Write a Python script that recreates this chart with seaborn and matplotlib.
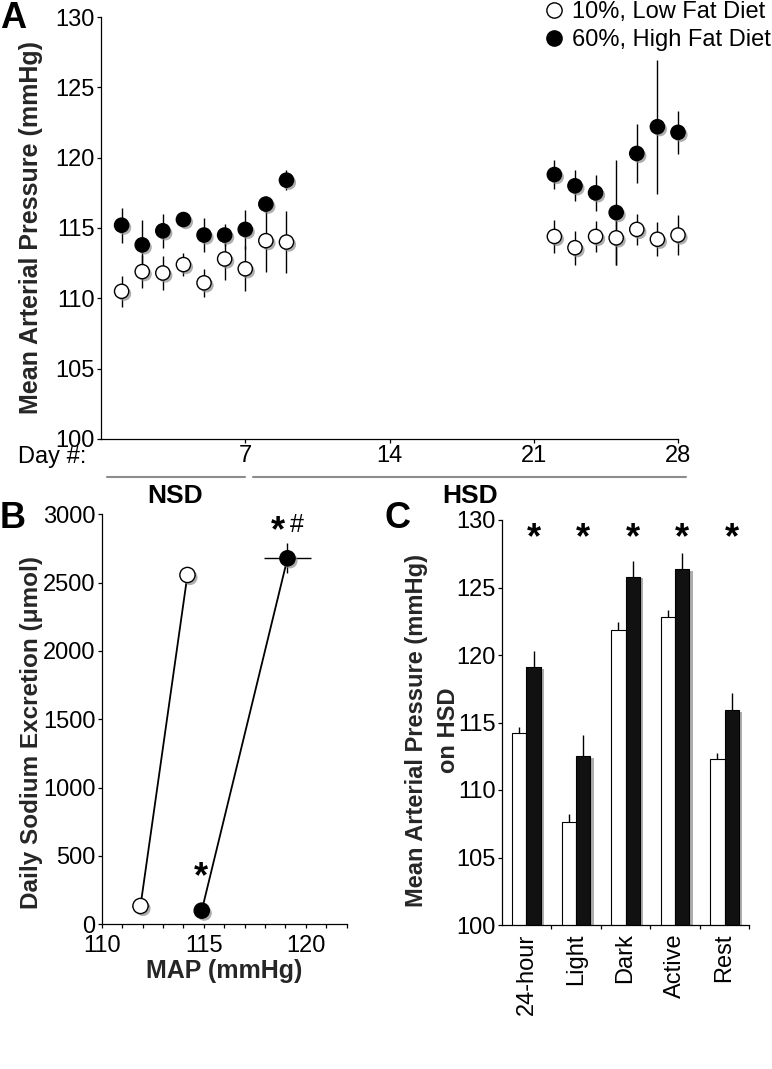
import numpy as np
import pandas as pd
import matplotlib
matplotlib.use("Agg")
import matplotlib.pyplot as plt
import matplotlib.patheffects as pe
from matplotlib.lines import Line2D
from matplotlib.collections import PathCollection
from matplotlib.transforms import blended_transform_factory
import seaborn as sns

# ---------------- data ----------------
diets = ["10%, Low Fat Diet", "60%, High Fat Diet"]

# Panel A: daily MAP
days = [1, 2, 3, 4, 5, 6, 7, 8, 9, 22, 23, 24, 25, 26, 27, 28]
lfd_map = [110.5, 111.9, 111.8, 112.4, 111.1, 112.8, 112.1, 114.1, 114.0,
           114.4, 113.6, 114.4, 114.3, 114.9, 114.2, 114.5]
lfd_sem = [1.1, 1.2, 1.2, 0.8, 1.0, 1.5, 1.6, 2.2, 2.2,
           1.2, 1.2, 1.1, 1.9, 1.1, 1.2, 1.45]
hfd_map = [115.2, 113.8, 114.8, 115.6, 114.5, 114.5, 114.9, 116.7, 118.4,
           118.8, 118.0, 117.5, 116.1, 120.3, 122.2, 121.8]
hfd_sem = [1.25, 1.8, 1.2, 0.3, 1.2, 0.8, 1.4, 0.6, 0.7,
           1.05, 1.1, 1.3, 3.75, 2.1, 4.75, 1.55]
day_ticks = [7, 14, 21, 28]
map_ticks = [100, 105, 110, 115, 120, 125, 130]

# Panel B: pressure-natriuresis
lfd_b_map = [111.9, 114.2]
lfd_b_map_err = [0.4, 0.35]
lfd_b_na = [134, 2556]
lfd_b_na_err = [0, 0]
hfd_b_map = [114.9, 119.1]
hfd_b_map_err = [0.3, 1.15]
hfd_b_na = [100, 2678]
hfd_b_na_err = [0, 110]

# Panel C: MAP on HSD by period
periods = ["24-hour", "Light", "Dark", "Active", "Rest"]
lfd_c = [114.2, 107.65, 121.85, 122.8, 112.3]
lfd_c_err = [0.45, 0.55, 0.57, 0.5, 0.47]
hfd_c = [119.1, 112.5, 125.8, 126.35, 115.9]
hfd_c_err = [1.2, 1.57, 1.19, 1.21, 1.28]

# ---------------- style ----------------
sns.set_theme(style="ticks")
plt.rcParams['font.family'] = ['Liberation Sans', 'DejaVu Sans']
plt.rcParams.update({
    'axes.linewidth': 0.9,
    'xtick.major.width': 0.9, 'ytick.major.width': 0.9,
    'xtick.minor.width': 0.9, 'ytick.minor.width': 0.9,
    'xtick.major.size': 3, 'ytick.major.size': 3,
    'xtick.minor.size': 3, 'ytick.minor.size': 3,
    'xtick.color': 'black', 'ytick.color': 'black',
    'axes.edgecolor': 'black', 'text.color': 'black',
    'xtick.labelsize': 17, 'ytick.labelsize': 17,
})

W, H = 772, 1069
fig = plt.figure(figsize=(W / 100, H / 100), dpi=100)


def rect(l, t, r, b):
    return [l / W, 1 - b / H, (r - l) / W, (b - t) / H]


shadow = [pe.SimplePatchShadow(offset=(1.8, -1.8), shadow_rgbFace='0.55', alpha=0.7), pe.Normal()]
pal = {diets[0]: 'white', diets[1]: 'black'}

# ---------------- Panel A ----------------
axA = fig.add_axes(rect(101, 17, 678, 439))
dfA = pd.DataFrame({
    'day': days * 2,
    'mapv': lfd_map + hfd_map,
    'sem': lfd_sem + hfd_sem,
    'diet': [diets[0]] * len(days) + [diets[1]] * len(days),
})
for d in diets:
    sub = dfA[dfA['diet'] == d]
    eb = axA.errorbar(sub['day'], sub['mapv'], yerr=sub['sem'], fmt='none', ecolor='black',
                      elinewidth=1.0, capsize=0, zorder=2)
    for art in eb.lines[2]:
        art.set_clip_on(False)
sns.scatterplot(data=dfA, x='day', y='mapv', hue='diet', palette=pal,
                edgecolor='black', linewidth=1.0, s=105, ax=axA, legend=False,
                zorder=3, clip_on=False)
for c in axA.collections:
    if isinstance(c, PathCollection):
        c.set_path_effects(shadow)
        c.set_clip_on(False)
axA.set_xlim(0, 28)
axA.set_ylim(100, 130)
axA.set_xticks(day_ticks)
axA.set_yticks(map_ticks)
axA.tick_params(axis='x', pad=1.5)
axA.tick_params(axis='y', pad=1.5)
axA.set_xlabel('')
axA.set_ylabel('Mean Arterial Pressure (mmHg)', fontsize=18, fontweight='bold')
axA.yaxis.set_label_coords(-0.1, 0.5)
sns.despine(ax=axA)

handles = [Line2D([], [], ls='none', marker='o', markersize=11, markerfacecolor=pal[d],
                  markeredgecolor='black', markeredgewidth=1.0) for d in diets]
fig.legend(handles, diets, loc='upper left', bbox_to_anchor=(545 / W, 1 - 1 / H),
           frameon=False, fontsize=17, borderpad=0, handlelength=0.8,
           handletextpad=0.35, labelspacing=0.25, borderaxespad=0)

fig.text(18 / W, 1 - 463 / H, 'Day #:', fontsize=17, ha='left', va='baseline')
tA = blended_transform_factory(axA.transData, fig.transFigure)
axA.add_artist(Line2D([0.27, 7.0], [1 - 477 / H] * 2, transform=tA, color='#8c8c8c',
                      lw=1.5, clip_on=False))
axA.add_artist(Line2D([7.4, 28.4], [1 - 477 / H] * 2, transform=tA, color='#8c8c8c',
                      lw=1.5, clip_on=False))
fig.text(175 / W, 1 - 496 / H, 'NSD', fontsize=19, fontweight='bold', ha='center', va='center')
fig.text(470 / W, 1 - 496 / H, 'HSD', fontsize=19, fontweight='bold', ha='center', va='center')

# ---------------- Panel B ----------------
axB = fig.add_axes(rect(101.7, 514.3, 346.7, 924.3))
dfB = pd.DataFrame({
    'mapv': lfd_b_map + hfd_b_map,
    'map_err': lfd_b_map_err + hfd_b_map_err,
    'na': lfd_b_na + hfd_b_na,
    'na_err': lfd_b_na_err + hfd_b_na_err,
    'diet': [diets[0]] * 2 + [diets[1]] * 2,
})
for d in diets:
    sub = dfB[dfB['diet'] == d]
    sns.lineplot(data=sub, x='mapv', y='na', color='black', lw=1.3, ax=axB,
                 estimator=None, sort=False, zorder=2)
    axB.errorbar(sub['mapv'], sub['na'], xerr=sub['map_err'], yerr=sub['na_err'],
                 fmt='none', ecolor='black', elinewidth=1.0, capsize=0, zorder=2)
sns.scatterplot(data=dfB, x='mapv', y='na', hue='diet', palette=pal, edgecolor='black',
                linewidth=1.0, s=120, ax=axB, legend=False, zorder=3, clip_on=False)
for c in axB.collections:
    if isinstance(c, PathCollection):
        c.set_path_effects(shadow)
axB.set_xlim(110, 122)
axB.set_ylim(0, 3000)
axB.set_xticks([110, 115, 120])
axB.set_xticks(np.arange(110, 123, 1), minor=True)
axB.set_yticks(np.arange(0, 3001, 500))
axB.tick_params(axis='y', pad=1.5)
axB.tick_params(axis='x', pad=5)
axB.set_xlabel('MAP (mmHg)', fontsize=18, fontweight='bold', va='top')
axB.xaxis.set_label_coords(0.5, -0.085)
axB.set_ylabel('Daily Sodium Excretion (μmol)', fontsize=17.5, fontweight='bold')
axB.yaxis.set_label_coords(-0.24, 0.467)
sns.despine(ax=axB)
axB.text(hfd_b_map[0] - 0.06, 273, '*', fontsize=26, fontweight='bold', ha='center', va='baseline')
axB.text(118.65, 2800, '*', fontsize=26, fontweight='bold', ha='center', va='baseline')
axB.text(119.2, 2870, '#', fontsize=18, ha='left', va='baseline')

# ---------------- Panel C ----------------
axC = fig.add_axes(rect(501.7, 520, 749.3, 925))
dfC = pd.DataFrame({
    'period': periods * 2,
    'mapv': lfd_c + hfd_c,
    'err': lfd_c_err + hfd_c_err,
    'diet': [diets[0]] * len(periods) + [diets[1]] * len(periods),
})
sns.barplot(data=dfC, x='period', y='mapv', hue='diet', palette={diets[0]: 'white', diets[1]: '#111111'},
            order=periods, hue_order=diets, width=0.57, edgecolor='black', linewidth=0.8,
            errorbar=None, legend=False, ax=axC)
bar_x = []
for p in axC.patches:
    p.set_path_effects([pe.SimplePatchShadow(offset=(2.5, -1.0), shadow_rgbFace='0.6', alpha=0.8), pe.Normal()])
    bar_x.append(p.get_x() + p.get_width() / 2)
bar_x = np.array(bar_x)
errs = np.array(lfd_c_err + hfd_c_err)
vals = np.array(lfd_c + hfd_c)
axC.errorbar(bar_x, vals, yerr=[np.zeros_like(errs), errs], fmt='none', ecolor='black',
             elinewidth=1.0, capsize=0, zorder=1)
axC.set_ylim(100, 130)
axC.set_xlim(-0.5, 4.5)
axC.set_yticks(map_ticks)
axC.set_xticks(np.arange(0.5, 5, 1), minor=True)
axC.tick_params(axis='x', which='major', length=0, pad=6)
axC.tick_params(axis='y', pad=1.5)
for lab in axC.get_xticklabels():
    lab.set_rotation(90)
    lab.set_va('top')
    lab.set_ha('center')
axC.set_xlabel('')
axC.set_ylabel('Mean Arterial Pressure (mmHg)\non HSD', fontsize=17, fontweight='bold',
               linespacing=1.5)
axC.yaxis.set_label_coords(-0.168, 0.481)
sns.despine(ax=axC)
for i in range(len(periods)):
    axC.text(bar_x[len(periods) + i], 127.95, '*', fontsize=26, fontweight='bold',
             ha='center', va='baseline')

# panel letters
fig.text(0 / W, 1 - 1 / H, 'A', fontsize=26, fontweight='bold', ha='left', va='top')
fig.text(0 / W, 1 - 501 / H, 'B', fontsize=26, fontweight='bold', ha='left', va='top')
fig.text(384 / W, 1 - 501 / H, 'C', fontsize=26, fontweight='bold', ha='left', va='top')

fig.savefig('out.png', dpi=100)
